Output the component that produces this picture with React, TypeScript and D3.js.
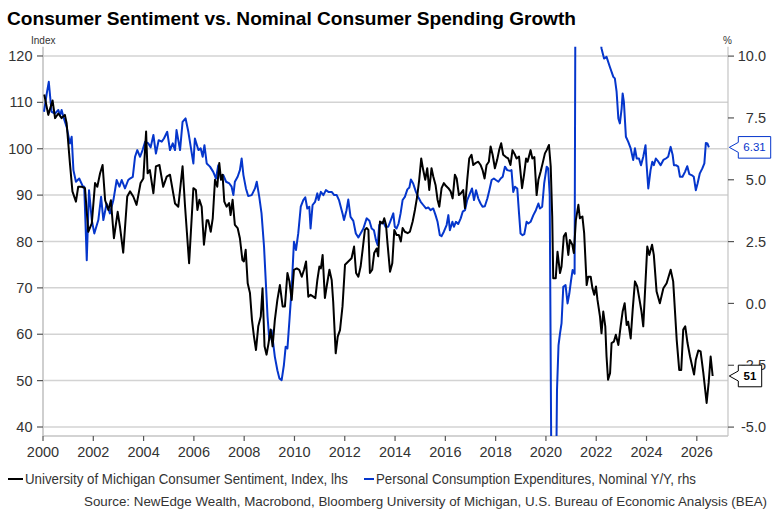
import * as d3 from 'd3';

// [decimal year, value]
const sentiment: [number, number][] = [
    [2000.05, 111.7], [2000.21, 107.3], [2000.38, 110.4], [2000.48, 106.6], [2000.61, 107.6], [2000.74, 106.6],
    [2000.87, 107.3], [2000.94, 105.5], [2001.07, 96.9], [2001.17, 90.8], [2001.31, 88.6], [2001.4, 91.8],
    [2001.54, 91.8], [2001.67, 91.5], [2001.8, 82.1], [2001.94, 83.9], [2002.07, 92.6], [2002.16, 91.8],
    [2002.27, 94.7], [2002.37, 96.5], [2002.47, 88.9], [2002.6, 86.8], [2002.7, 88.9], [2002.82, 80.7],
    [2002.97, 86.4], [2003.06, 83.2], [2003.19, 77.6], [2003.35, 89.7], [2003.46, 90.8], [2003.59, 89.7],
    [2003.72, 87.9], [2003.88, 92.6], [2003.99, 93.6], [2004.1, 103.7], [2004.16, 94.7], [2004.25, 95.4],
    [2004.39, 90.4], [2004.49, 96.2], [2004.63, 96.5], [2004.78, 91.8], [2004.92, 94.0], [2005.05, 94.4],
    [2005.25, 88.2], [2005.38, 87.5], [2005.55, 96.2], [2005.65, 87.5], [2005.81, 75.3], [2005.98, 91.5],
    [2006.08, 91.1], [2006.14, 86.8], [2006.22, 89.0], [2006.31, 87.5], [2006.4, 79.3], [2006.51, 84.6],
    [2006.57, 84.6], [2006.67, 82.1], [2006.75, 85.0], [2006.84, 93.3], [2006.93, 91.8], [2007.01, 96.9],
    [2007.08, 93.3], [2007.14, 94.4], [2007.21, 88.6], [2007.3, 87.5], [2007.4, 88.3], [2007.46, 85.7],
    [2007.54, 89.0], [2007.63, 83.6], [2007.74, 82.9], [2007.83, 80.7], [2007.93, 76.0], [2007.99, 75.7],
    [2008.06, 78.2], [2008.14, 71.0], [2008.23, 68.9], [2008.31, 63.1], [2008.39, 59.5], [2008.47, 56.6],
    [2008.56, 61.7], [2008.66, 63.8], [2008.73, 69.9], [2008.81, 57.4], [2008.89, 55.6], [2008.97, 58.1],
    [2009.05, 61.0], [2009.13, 57.4], [2009.22, 63.1], [2009.32, 67.4], [2009.42, 70.6], [2009.53, 66.0],
    [2009.62, 66.0], [2009.72, 73.2], [2009.8, 71.4], [2009.89, 67.4], [2009.98, 73.9], [2010.09, 74.2],
    [2010.19, 73.9], [2010.29, 72.4], [2010.38, 73.9], [2010.46, 75.7], [2010.55, 68.1], [2010.64, 68.5],
    [2010.75, 68.1], [2010.83, 67.8], [2010.91, 71.7], [2010.99, 74.6], [2011.05, 74.2], [2011.12, 77.1],
    [2011.21, 67.8], [2011.28, 70.3], [2011.39, 73.9], [2011.48, 71.7], [2011.54, 67.0], [2011.64, 55.9],
    [2011.72, 59.5], [2011.81, 60.9], [2011.91, 66.0], [2012.01, 75.0], [2012.14, 75.7], [2012.27, 76.4],
    [2012.37, 78.9], [2012.45, 73.2], [2012.54, 72.4], [2012.63, 74.6], [2012.71, 78.2], [2012.8, 82.5],
    [2012.87, 82.9], [2012.94, 82.5], [2013.0, 73.2], [2013.09, 73.9], [2013.17, 77.5], [2013.27, 78.5],
    [2013.33, 76.8], [2013.4, 84.3], [2013.51, 83.9], [2013.57, 85.0], [2013.64, 83.6], [2013.7, 79.6],
    [2013.8, 73.5], [2013.89, 75.3], [2013.97, 82.5], [2014.06, 81.4], [2014.15, 81.4], [2014.23, 80.0],
    [2014.3, 82.9], [2014.39, 82.1], [2014.5, 81.8], [2014.59, 82.1], [2014.7, 84.3], [2014.79, 86.8],
    [2014.88, 89.7], [2014.96, 93.3], [2015.04, 97.9], [2015.12, 95.4], [2015.2, 93.3], [2015.28, 95.8],
    [2015.36, 91.1], [2015.45, 95.8], [2015.52, 94.0], [2015.61, 92.2], [2015.69, 89.0], [2015.76, 87.5],
    [2015.85, 91.5], [2015.94, 92.6], [2016.02, 92.0], [2016.12, 91.5], [2016.21, 90.8], [2016.29, 89.3],
    [2016.38, 94.4], [2016.45, 93.6], [2016.54, 90.0], [2016.62, 90.4], [2016.71, 91.1], [2016.78, 87.2],
    [2016.87, 93.3], [2016.95, 97.9], [2017.04, 98.7], [2017.11, 96.5], [2017.2, 96.9], [2017.31, 97.2],
    [2017.4, 96.5], [2017.48, 95.4], [2017.56, 93.6], [2017.64, 96.5], [2017.73, 97.2], [2017.8, 100.5],
    [2017.88, 98.7], [2017.97, 95.8], [2018.06, 97.6], [2018.14, 99.7], [2018.22, 101.2], [2018.3, 98.7],
    [2018.41, 98.2], [2018.5, 97.9], [2018.59, 96.5], [2018.67, 99.7], [2018.77, 98.7], [2018.83, 97.9],
    [2018.93, 98.3], [2019.05, 91.5], [2019.13, 94.4], [2019.21, 97.9], [2019.27, 97.2], [2019.39, 99.7],
    [2019.46, 97.9], [2019.54, 98.2], [2019.63, 90.0], [2019.7, 93.3], [2019.79, 95.1], [2019.87, 96.9],
    [2019.96, 99.0], [2020.03, 99.7], [2020.12, 100.8], [2020.19, 96.2], [2020.25, 85.4], [2020.29, 72.1],
    [2020.39, 72.1], [2020.46, 77.8], [2020.56, 73.2], [2020.62, 74.6], [2020.71, 81.1], [2020.79, 81.8],
    [2020.89, 77.1], [2020.95, 80.3], [2021.05, 79.3], [2021.11, 77.5], [2021.19, 84.6], [2021.29, 87.9],
    [2021.35, 85.0], [2021.45, 85.4], [2021.52, 81.8], [2021.62, 70.6], [2021.68, 72.4], [2021.78, 72.4],
    [2021.85, 69.9], [2021.92, 68.5], [2021.99, 70.3], [2022.05, 67.4], [2022.15, 63.8], [2022.21, 60.2],
    [2022.28, 64.9], [2022.36, 61.7], [2022.41, 55.2], [2022.47, 50.2], [2022.55, 51.6], [2022.61, 58.1],
    [2022.7, 58.4], [2022.78, 59.9], [2022.88, 57.7], [2022.97, 61.7], [2023.05, 64.9], [2023.13, 66.7],
    [2023.21, 62.0], [2023.27, 62.7], [2023.37, 59.1], [2023.45, 65.3], [2023.54, 71.4], [2023.63, 70.3],
    [2023.71, 67.8], [2023.8, 64.9], [2023.87, 61.7], [2024.03, 78.9], [2024.11, 77.1], [2024.22, 79.3],
    [2024.29, 77.1], [2024.4, 69.2], [2024.53, 66.7], [2024.67, 69.9], [2024.8, 71.0], [2024.96, 73.9],
    [2025.06, 71.4], [2025.2, 58.8], [2025.3, 52.3], [2025.38, 52.3], [2025.46, 61.0], [2025.54, 61.7],
    [2025.63, 58.1], [2025.73, 55.2], [2025.89, 51.3], [2025.96, 54.5], [2026.06, 56.5], [2026.15, 56.3],
    [2026.26, 51.6], [2026.39, 45.2], [2026.47, 49.5], [2026.55, 55.2], [2026.63, 51.0],
];

const pce: [number, number][] = [
    [2000.04, 7.75], [2000.15, 8.49], [2000.23, 8.96], [2000.34, 7.75], [2000.48, 7.68], [2000.61, 7.82],
    [2000.68, 7.61], [2000.74, 7.82], [2000.83, 7.48], [2000.94, 7.14], [2001.07, 6.47], [2001.14, 6.74],
    [2001.21, 5.39], [2001.31, 4.92], [2001.44, 5.05], [2001.58, 4.74], [2001.64, 4.72], [2001.74, 1.75],
    [2001.83, 4.58], [2001.94, 3.37], [2002.04, 2.83], [2002.2, 3.37], [2002.31, 4.31], [2002.4, 3.37],
    [2002.53, 4.04], [2002.66, 3.64], [2002.8, 4.18], [2002.93, 4.99], [2003.04, 4.72], [2003.13, 4.99],
    [2003.26, 4.65], [2003.39, 4.99], [2003.46, 5.05], [2003.57, 5.12], [2003.66, 5.93], [2003.75, 6.2],
    [2003.86, 5.93], [2003.96, 6.2], [2004.06, 6.54], [2004.19, 6.47], [2004.28, 6.31], [2004.39, 6.81],
    [2004.49, 6.06], [2004.6, 6.6], [2004.72, 6.54], [2004.81, 6.67], [2004.94, 6.94], [2005.05, 6.2],
    [2005.16, 6.47], [2005.25, 6.2], [2005.31, 7.01], [2005.45, 6.2], [2005.55, 7.34], [2005.67, 7.48],
    [2005.78, 6.94], [2005.88, 6.3], [2005.98, 5.66], [2006.04, 6.67], [2006.18, 6.2], [2006.27, 6.27],
    [2006.35, 5.93], [2006.42, 6.4], [2006.51, 5.66], [2006.64, 5.53], [2006.77, 5.32], [2006.88, 5.05],
    [2006.97, 5.59], [2007.07, 5.05], [2007.17, 5.19], [2007.28, 4.92], [2007.41, 4.85], [2007.5, 4.72],
    [2007.57, 4.38], [2007.63, 4.92], [2007.74, 5.12], [2007.83, 5.39], [2007.9, 5.86], [2007.97, 5.19],
    [2008.07, 4.65], [2008.16, 4.34], [2008.3, 4.38], [2008.43, 4.65], [2008.5, 4.92], [2008.6, 4.31],
    [2008.69, 3.64], [2008.79, 2.29], [2008.87, 0.67], [2008.93, -0.54], [2009.0, -1.48], [2009.09, -1.08],
    [2009.22, -2.16], [2009.32, -2.7], [2009.4, -3.03], [2009.49, -3.1], [2009.58, -2.49], [2009.65, -1.75],
    [2009.72, -1.82], [2009.8, -0.68], [2009.89, 0.67], [2009.98, 2.49], [2010.06, 2.16], [2010.15, 2.83],
    [2010.25, 3.91], [2010.35, 4.18], [2010.43, 4.29], [2010.51, 3.84], [2010.59, 3.91], [2010.64, 3.03],
    [2010.72, 3.98], [2010.82, 4.11], [2010.91, 4.45], [2010.96, 4.18], [2011.05, 4.51], [2011.15, 4.38],
    [2011.25, 4.58], [2011.35, 4.51], [2011.48, 4.51], [2011.58, 4.38], [2011.68, 4.38], [2011.77, 4.18],
    [2011.91, 3.64], [2011.97, 3.37], [2012.07, 3.77], [2012.14, 4.2], [2012.23, 3.5], [2012.34, 3.34],
    [2012.44, 2.83], [2012.54, 2.67], [2012.63, 2.83], [2012.74, 3.03], [2012.87, 3.44], [2012.98, 3.34],
    [2013.07, 3.03], [2013.16, 2.96], [2013.24, 2.56], [2013.31, 2.36], [2013.37, 3.17], [2013.44, 3.23],
    [2013.53, 3.3], [2013.62, 3.1], [2013.73, 3.1], [2013.82, 3.34], [2013.93, 3.64], [2013.99, 3.1],
    [2014.06, 3.03], [2014.14, 3.23], [2014.22, 3.64], [2014.3, 4.18], [2014.39, 4.31], [2014.49, 4.61],
    [2014.57, 4.69], [2014.63, 5.01], [2014.72, 4.85], [2014.83, 4.51], [2014.92, 4.31], [2015.02, 4.11],
    [2015.12, 3.98], [2015.23, 3.84], [2015.32, 3.88], [2015.41, 3.77], [2015.52, 3.84], [2015.61, 3.57],
    [2015.69, 3.3], [2015.78, 2.76], [2015.85, 2.72], [2015.94, 2.9], [2016.05, 3.17], [2016.12, 3.57],
    [2016.18, 2.96], [2016.28, 3.3], [2016.34, 3.1], [2016.42, 3.3], [2016.51, 3.21], [2016.61, 3.44],
    [2016.69, 3.71], [2016.78, 3.77], [2016.87, 4.18], [2016.98, 4.45], [2017.06, 4.65], [2017.14, 4.18],
    [2017.22, 4.58], [2017.31, 4.24], [2017.4, 4.04], [2017.48, 3.91], [2017.57, 3.93], [2017.67, 4.24],
    [2017.75, 4.58], [2017.84, 4.99], [2017.93, 5.05], [2018.01, 4.99], [2018.11, 4.92], [2018.2, 5.05],
    [2018.28, 5.12], [2018.37, 5.53], [2018.46, 5.39], [2018.57, 5.36], [2018.63, 5.39], [2018.7, 4.51],
    [2018.77, 4.72], [2018.86, 4.65], [2018.93, 3.64], [2018.99, 2.83], [2019.07, 2.76], [2019.14, 2.8],
    [2019.23, 3.3], [2019.3, 3.23], [2019.39, 3.3], [2019.5, 3.57], [2019.6, 3.77], [2019.7, 4.04],
    [2019.76, 3.84], [2019.85, 3.91], [2019.93, 4.85], [2020.03, 5.53], [2020.09, 5.46], [2020.15, 4.4],
    [2020.27, -16.0], [2020.36, -11.5], [2020.44, -3.5], [2020.5, -1.7], [2020.56, -1.21], [2020.62, -0.81],
    [2020.69, 0.67], [2020.78, 0.74], [2020.86, 0.0], [2020.93, 0.4], [2021.0, 0.94], [2021.06, 1.35],
    [2021.14, 1.2], [2021.22, 29.0], [2021.3, 27.0], [2021.4, 16.0], [2021.5, 13.0], [2021.7, 12.5],
    [2021.9, 12.0], [2022.05, 11.5], [2022.15, 10.8], [2022.21, 10.31], [2022.31, 9.9], [2022.41, 9.97],
    [2022.54, 9.57], [2022.68, 9.16], [2022.74, 9.1], [2022.81, 8.56], [2022.88, 7.48], [2022.94, 7.28],
    [2023.01, 7.88], [2023.05, 8.49], [2023.1, 8.15], [2023.18, 6.74], [2023.27, 6.54], [2023.37, 6.27],
    [2023.47, 5.8], [2023.54, 6.27], [2023.61, 5.86], [2023.7, 5.86], [2023.78, 5.59], [2023.87, 5.93],
    [2023.96, 6.4], [2024.0, 5.66], [2024.07, 4.65], [2024.16, 5.39], [2024.23, 5.73], [2024.29, 5.59],
    [2024.37, 5.86], [2024.47, 5.73], [2024.56, 5.59], [2024.67, 5.8], [2024.77, 5.86], [2024.86, 5.93],
    [2024.96, 6.33], [2025.04, 6.0], [2025.09, 5.59], [2025.17, 5.59], [2025.26, 5.53], [2025.33, 5.12],
    [2025.43, 5.12], [2025.53, 5.32], [2025.62, 5.55], [2025.7, 5.23], [2025.79, 5.19], [2025.88, 5.12],
    [2025.96, 4.58], [2026.03, 4.85], [2026.12, 5.26], [2026.22, 5.46], [2026.3, 5.66], [2026.36, 6.49],
    [2026.42, 6.47], [2026.48, 6.31],
];

const leftTicks = [40, 50, 60, 70, 80, 90, 100, 110, 120];
const rightTicks = [-5, -2.5, 0, 2.5, 5, 7.5, 10];
const yearTicks = d3.range(2000, 2027, 2);

const title = 'Consumer Sentiment vs. Nominal Consumer Spending Growth';
const legendSentiment = 'University of Michigan Consumer Sentiment, Index, lhs';
const legendPce = 'Personal Consumption Expenditures, Nominal Y/Y, rhs';
const source = 'Source: NewEdge Wealth, Macrobond, Bloomberg University of Michigan, U.S. Bureau of Economic Analysis (BEA)';

const FONT = '"Liberation Sans", Arial, sans-serif';
const BLUE = '#0536cc';
const TEXT = '#333';

export default function App() {
    const left = 43, right = 728, top = 46.7, bottom = 436;

    const x = d3.scaleLinear().domain([2000, 2027.24]).range([left, right]);
    const yL = d3.scaleLinear().domain([38.06, 122.0]).range([bottom, top]);
    const yR = d3.scaleLinear().domain([-5.36, 10.38]).range([bottom, top]);

    const sentLine = d3.line<[number, number]>().x(d => x(d[0])).y(d => yL(d[1]));
    const pceLine = d3.line<[number, number]>().x(d => x(d[0])).y(d => yR(d[1]));

    const lastS = sentiment[sentiment.length - 1][1];
    const lastP = pce[pce.length - 1][1];

    // value tag with a pointer on its left side
    const tag = (cy: number, w: number) => {
        const x0 = 729.3, x1 = 738.3, h = 21.6;
        return `M${x0},${cy} L${x1},${cy - 5} L${x1},${cy - h / 2} L${x1 + w},${cy - h / 2} L${x1 + w},${cy + h / 2} L${x1},${cy + h / 2} L${x1},${cy + 5} Z`;
    };

    return (
        <div style={{ position: 'fixed', left: 0, top: 0 }}>
            <svg width={780} height={520} style={{ display: 'block', background: '#fff', fontFamily: FONT }}>
                <defs>
                    <clipPath id="plot">
                        <rect x={left} y={top} width={right - left} height={bottom - top} />
                    </clipPath>
                </defs>

                <text x={7} y={25} fontSize={19} fontWeight="bold" fill="#000"
                    textLength={569} lengthAdjust="spacingAndGlyphs">{title}</text>

                {/* grid */}
                {leftTicks.map(t => (
                    <line key={t} x1={left} x2={right} y1={yL(t)} y2={yL(t)} stroke="#d3d3d3" strokeWidth={1.5} />
                ))}

                {/* axes frame */}
                <line x1={left} x2={left} y1={top} y2={bottom} stroke="#cfcfcf" strokeWidth={2} />
                <line x1={right} x2={right} y1={top} y2={bottom} stroke="#c4c4c4" strokeWidth={1.2} />
                <line x1={left} x2={right} y1={bottom} y2={bottom} stroke="#c4c4c4" strokeWidth={1.5} />

                {/* left axis */}
                <text x={31} y={44} fontSize={10} fill={TEXT}>Index</text>
                {leftTicks.map(t => (
                    <g key={t}>
                        <line x1={37} x2={43} y1={yL(t)} y2={yL(t)} stroke="#555" strokeWidth={1.2} />
                        <text x={32.5} y={yL(t)} dy="0.35em" textAnchor="end" fontSize={14.5} fill={TEXT}>{t}</text>
                    </g>
                ))}

                {/* right axis */}
                <text x={723} y={44} fontSize={10} fill={TEXT}>%</text>
                {rightTicks.map(t => (
                    <g key={t}>
                        <line x1={728} x2={734} y1={yR(t)} y2={yR(t)} stroke="#555" strokeWidth={1.2} />
                        <text x={766} y={yR(t)} dy="0.35em" textAnchor="end" fontSize={14.5} fill={TEXT}>{t.toFixed(1)}</text>
                    </g>
                ))}

                {/* bottom axis */}
                {yearTicks.map(t => (
                    <g key={t}>
                        <line x1={x(t)} x2={x(t)} y1={bottom} y2={bottom + 5} stroke="#555" strokeWidth={1.2} />
                        <text x={x(t)} y={457} textAnchor="middle" fontSize={14.5} fill={TEXT}>{t}</text>
                    </g>
                ))}

                <g clipPath="url(#plot)" fill="none" strokeLinejoin="round">
                    <path d={pceLine(pce) ?? ''} stroke={BLUE} strokeWidth={2} />
                    <path d={sentLine(sentiment) ?? ''} stroke="#000" strokeWidth={2} />
                </g>

                {/* last value tags */}
                <path d={tag(yR(lastP), 32.4)} fill="#fff" stroke={BLUE} strokeWidth={1} />
                <text x={754.5} y={yR(lastP)} dy="0.35em" textAnchor="middle" fontSize={11.5} fill={BLUE}>{lastP.toFixed(2)}</text>
                <path d={tag(yL(lastS), 23.4)} fill="#fff" stroke="#000" strokeWidth={1} />
                <text x={750} y={yL(lastS)} dy="0.35em" textAnchor="middle" fontSize={11.5} fontWeight="bold" fill="#000">{lastS.toFixed(0)}</text>

                {/* legend */}
                <line x1={8} x2={23} y1={479} y2={479} stroke="#000" strokeWidth={2} />
                <text x={25} y={479} dy="0.35em" fontSize={14.3} fill={TEXT}
                    textLength={323} lengthAdjust="spacingAndGlyphs">{legendSentiment}</text>
                <line x1={364} x2={374} y1={479} y2={479} stroke={BLUE} strokeWidth={2} />
                <text x={376} y={479} dy="0.35em" fontSize={14.3} fill={TEXT}
                    textLength={320} lengthAdjust="spacingAndGlyphs">{legendPce}</text>

                <text x={84} y={501} dy="0.35em" fontSize={13.6} fill={TEXT}
                    textLength={683} lengthAdjust="spacingAndGlyphs">{source}</text>
            </svg>
        </div>
    );
}
